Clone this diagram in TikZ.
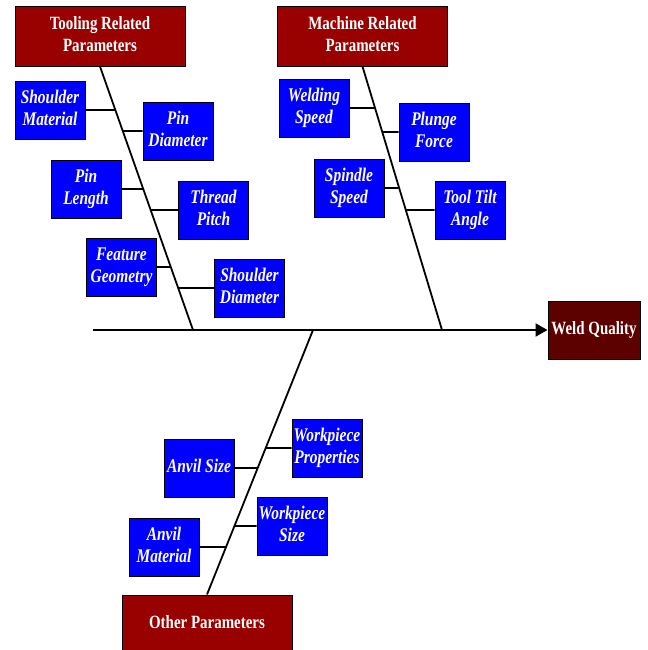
\documentclass[tikz,border=0pt]{standalone}
\usepackage{fontspec}
\usepackage{graphicx}
\setmainfont{Liberation Serif}
\usetikzlibrary{calc,arrows.meta}
\newcommand\vst[1]{\raisebox{-2bp}{\scalebox{1}[1.25]{\begin{tabular}{@{}c@{}}#1\end{tabular}}}}
\tikzset{
  cat/.style={draw=black, line width=1pt, fill=catred, text=white, font=\fontsize{15}{17.6}\selectfont\bfseries, align=center, inner sep=0pt, minimum width=170bp, minimum height=59bp},
  cause/.style={draw=black, line width=1pt, fill=causeblue, text=white, font=\fontsize{15.5}{17.6}\selectfont\bfseries\itshape, align=center, inner sep=0pt, minimum width=70bp, minimum height=58bp},
  effect/.style={draw=black, line width=1pt, fill=effred, text=white, font=\fontsize{15}{17.6}\selectfont\bfseries, align=center, inner sep=0pt, minimum width=92bp, minimum height=58bp},
  spine/.style={line width=1.8pt, black},
  twig/.style={line width=1.8pt, black},
}
\definecolor{catred}{HTML}{990000}
\definecolor{causeblue}{HTML}{0000FF}
\definecolor{effred}{HTML}{5C0000}
\begin{document}
\begin{tikzpicture}[x=1bp,y=-1bp]
\useasboundingbox (0,0) rectangle (648,650);
\begin{scope}
\clip (0,0) rectangle (648,650);
% category boxes
\node[cat] (tool) at (100,36.5) {\vst{Tooling Related\\Parameters}};
\node[cat] (mach) at (362.5,36.5) {\vst{Machine Related\\Parameters}};
\node[cat] (other) at (207,624.5) {\vst{Other Parameters}};
\node[effect] (weld) at (594,330) {\vst{Weld Quality}};
% spines
\coordinate (ttop) at (100,66);   \coordinate (tbot) at (193,330);
\coordinate (mtop) at (363,66);   \coordinate (mbot) at (442,330);
\coordinate (otop) at (313,330);  \coordinate (obot) at (207,595);
\coordinate (axstart) at (93,330);
\draw[line width=2.2pt, -{Triangle[length=12bp,width=13bp]}] (axstart) -- (weld.west);
\draw[spine] (tool.south) -- (tbot);
\draw[spine] (mach.south) -- (mbot);
\draw[spine] (otop) -- (other.north);
% tooling causes
\node[cause] (sm) at (50,110) {\vst{Shoulder\\Material}};
\node[cause] (pd) at (178,131) {\vst{Pin\\Diameter}};
\node[cause] (pl) at (86,189) {\vst{Pin\\Length}};
\node[cause] (tp) at (213.5,210) {\vst{Thread\\Pitch}};
\node[cause] (fg) at (121.5,267) {\vst{Feature\\Geometry}};
\node[cause] (sd) at (249.5,288) {\vst{Shoulder\\Diameter}};
\coordinate (t1) at ($(ttop)!{44/264}!(tbot)$);
\coordinate (t2) at ($(ttop)!{65/264}!(tbot)$);
\coordinate (t3) at ($(ttop)!{123/264}!(tbot)$);
\coordinate (t4) at ($(ttop)!{144/264}!(tbot)$);
\coordinate (t5) at ($(ttop)!{201/264}!(tbot)$);
\coordinate (t6) at ($(ttop)!{222/264}!(tbot)$);
\draw[twig] (sm.east) -- (t1);
\draw[twig] (pd.west) -- (t2);
\draw[twig] (pl.east) -- (t3);
\draw[twig] (tp.west) -- (t4);
\draw[twig] (fg.east) -- (t5);
\draw[twig] (sd.west) -- (t6);
% machine causes
\node[cause] (ws) at (314,108) {\vst{Welding\\Speed}};
\node[cause] (pf) at (434,132) {\vst{Plunge\\Force}};
\node[cause] (ss) at (349,188) {\vst{Spindle\\Speed}};
\node[cause] (ta) at (470,210) {\vst{Tool Tilt\\Angle}};
\coordinate (m1) at ($(mtop)!{42/264}!(mbot)$);
\coordinate (m2) at ($(mtop)!{66/264}!(mbot)$);
\coordinate (m3) at ($(mtop)!{122/264}!(mbot)$);
\coordinate (m4) at ($(mtop)!{144/264}!(mbot)$);
\draw[twig] (ws.east) -- (m1);
\draw[twig] (pf.west) -- (m2);
\draw[twig] (ss.east) -- (m3);
\draw[twig] (ta.west) -- (m4);
% other causes
\node[cause] (wp) at (327,448) {\vst{Workpiece\\Properties}};
\node[cause] (as) at (199,468) {\vst{Anvil Size}};
\node[cause] (wsz) at (292,526) {\vst{Workpiece\\Size}};
\node[cause] (am) at (164,547) {\vst{Anvil\\Material}};
\coordinate (o1) at ($(otop)!{118/265}!(obot)$);
\coordinate (o2) at ($(otop)!{138/265}!(obot)$);
\coordinate (o3) at ($(otop)!{196/265}!(obot)$);
\coordinate (o4) at ($(otop)!{217/265}!(obot)$);
\draw[twig] (wp.west) -- (o1);
\draw[twig] (as.east) -- (o2);
\draw[twig] (wsz.west) -- (o3);
\draw[twig] (am.east) -- (o4);
\end{scope}
\end{tikzpicture}
\end{document}
